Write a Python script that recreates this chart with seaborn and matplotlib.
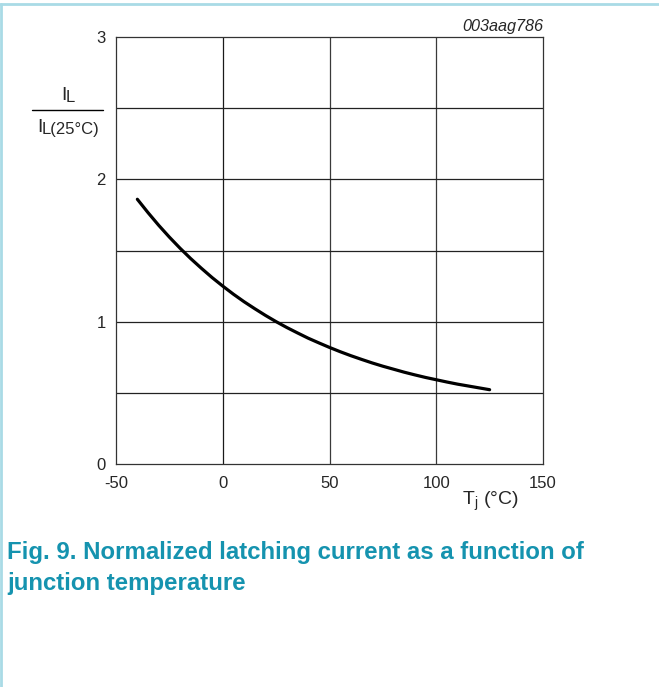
import matplotlib
matplotlib.use("Agg")
import matplotlib.pyplot as plt
import seaborn as sns
import pandas as pd

# junction temperature (degC) and normalized latching current
tj = [-40, -35, -30, -25, -20, -15, -10, -5, 0, 5, 10, 15, 20, 25, 30, 35, 40,
      45, 50, 55, 60, 65, 70, 75, 80, 85, 90, 95, 100, 105, 110, 115, 120, 125]
il_norm = [1.860, 1.766, 1.677, 1.594, 1.516, 1.443, 1.375, 1.310, 1.250, 1.193,
           1.140, 1.091, 1.044, 1.000, 0.959, 0.921, 0.884, 0.851, 0.819, 0.789,
           0.761, 0.735, 0.710, 0.687, 0.666, 0.645, 0.626, 0.608, 0.592, 0.576,
           0.561, 0.548, 0.535, 0.522]

xticks = [-50, 0, 50, 100, 150]
yticks = [0, 1, 2, 3]

title_lines = ["Fig. 9. Normalized latching current as a function of",
               "junction temperature"]
code = "003aag786"

sns.set_theme(style="white")
plt.rcParams['font.family'] = ['Liberation Sans', 'DejaVu Sans']

df = pd.DataFrame({"Tj": tj, "IL": il_norm})

W, H = 659, 687
fig = plt.figure(figsize=(W / 100, H / 100), dpi=100)
ax = fig.add_axes([116 / W, 1 - 464 / H, 427 / W, 427 / H])

sns.lineplot(data=df, x="Tj", y="IL", ax=ax, color="black", linewidth=2.3)

ax.set_xlim(-50, 150)
ax.set_ylim(0, 3)
ax.set_xticks(xticks)
ax.set_yticks(yticks)
ax.set_xticklabels([str(v) for v in xticks], fontsize=12)
ax.set_yticklabels([str(v) for v in yticks], fontsize=12)
ax.tick_params(axis="y", length=0, pad=7.5)
ax.tick_params(axis="x", length=0, pad=8.5)
ax.set_xlabel("")
ax.set_ylabel("")

# grid every 50 degC and every 0.5
for x in [0, 50, 100]:
    ax.axvline(x, color="#1a1a1a" if x == 0 else "#3a3a3a", linewidth=0.9, zorder=0)
for y in [0.5, 1, 1.5, 2, 2.5]:
    ax.axhline(y, color="#222222", linewidth=0.9, zorder=0)
for s in ax.spines.values():
    s.set_color("#333333")
    s.set_linewidth(0.9)


def fx(px):
    return px / W


def fy(py):
    return 1 - py / H


# x axis label
fig.text(fx(462), fy(505), r"T$_\mathregular{j}$ (°C)", ha="left", va="baseline", fontsize=14)

# y label as a fraction
fig.text(fx(66.5), fy(100), "I", ha="right", va="baseline", fontsize=14)
fig.text(fx(66), fy(102.5), "L", ha="left", va="baseline", fontsize=12)
fig.add_artist(plt.Line2D([fx(32), fx(103)], [fy(110), fy(110)], color="black", linewidth=1))
fig.text(fx(42.5), fy(131.5), "I", ha="right", va="baseline", fontsize=14)
fig.text(fx(42), fy(134), "L(25°C)", ha="left", va="baseline", fontsize=12)

fig.text(fx(543), fy(31), code, ha="right", va="baseline", fontsize=11.7, style="italic")

# caption in two lines, sized so the first line spans the same width as the original
caps = []
for i, line in enumerate(title_lines):
    caps.append(fig.text(fx(7), fy(559 + 31 * i), line, ha="left", va="baseline",
                         fontsize=16, fontweight="bold", color="#1593af"))
renderer = fig.canvas.get_renderer()
w0 = caps[0].get_window_extent(renderer).width
size = 16 * 577 / w0
for c in caps:
    c.set_fontsize(size)

# light frame on top and left
fig.add_artist(plt.Line2D([0, 1], [fy(4), fy(4)], color="#a9dbe6", linewidth=2))
fig.add_artist(plt.Line2D([fx(1), fx(1)], [0, fy(4)], color="#a9dbe6", linewidth=2))

fig.savefig("out.png", dpi=100)
